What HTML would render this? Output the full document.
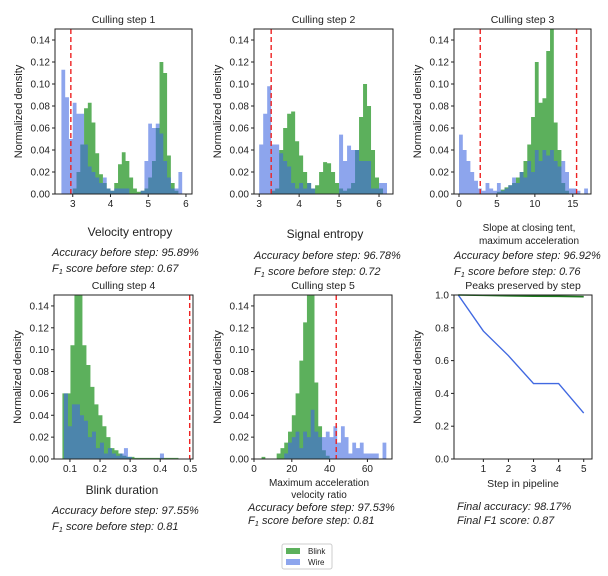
<!DOCTYPE html>
<html><head><meta charset="utf-8"><style>
body{margin:0;background:#fff}
svg{display:block;font-family:"Liberation Sans","DejaVu Sans",sans-serif}
.t{font-size:10px;fill:#222}
</style></head><body>
<svg id="fig" width="608" height="576" viewBox="0 0 608 576"></svg>
<script>
// ---- data ----
const p1Blue=[0.113,0.088,0.05,0.083,0.073,0.073,0.045,0.025,0.02,0.015,0.01,0.015,0.005,0.003,0.005,0.005,0.005,0.005,0,0,0,0.003,0.03,0.064,0.06,0.064,0.055,0.03,0.015,0.005,0.005,0.02];
const p1BlueStart=2.7;
const p1Green=[0.005,0.02,0.045,0.078,0.083,0.065,0.037,0.018,0.01,0.005,0.003,0.01,0.027,0.038,0.03,0.015,0.005,0.002,0.003,0.005,0.015,0.03,0.06,0.12,0.11,0.035,0.01,0.003];
const p1GreenStart=3.0;
const p1Cut=[2.95];
const p2Blue=[0.045,0.073,0.098,0.045,0.045,0.037,0.03,0.025,0.01,0.005,0.01,0.005,0.01,0.005,0,0,0,0,0,0,0.054,0.03,0.044,0.04,0.04,0.03,0.03,0.03,0.005,0.005,0.01,0.01];
const p2BlueStart=3.0;
const p2Green=[0.003,0.005,0.04,0.06,0.073,0.075,0.048,0.035,0.02,0.01,0.005,0.008,0.02,0.029,0.028,0.02,0.01,0.005,0.003,0.005,0.01,0.04,0.07,0.1,0.08,0.04,0.015,0.005];
const p2GreenStart=3.3;
const p2Cut=[3.3];
const p3Blue=[0.054,0.04,0.03,0.02,0.012,0.005,0.003,0.01,0.005,0.003,0.01,0.003,0.005,0.008,0.015,0.01,0.02,0.015,0.03,0.02,0.04,0.03,0.04,0.035,0.04,0.03,0.025,0.03,0.02,0.005,0.005,0.003,0,0.005];
const p3BlueStart=0;
const p3Green=[0.002,0.004,0.006,0.008,0.01,0.015,0.02,0.03,0.045,0.07,0.12,0.083,0.087,0.13,0.15,0.065,0.04,0.01,0.003];
const p3GreenStart=5;
const p3Cut=[2.8,15.5];
const p4Blue=[0.06,0.03,0.05,0.05,0.04,0.035,0.02,0.025,0.01,0.015,0.005,0.01,0.005,0.003,0.005,0.01,0.002,0,0,0,0,0,0,0,0.005,0,0,0,0,0];
const p4BlueStart=0.08;
const p4Green=[0.06,0.06,0.104,0.15,0.15,0.104,0.086,0.066,0.05,0.04,0.03,0.02,0.01,0.008,0.005,0.003,0.002,0.002,0.001,0.001,0.001,0.001,0.001,0.001,0.001,0.001,0.001,0.001,0.001];
const p4GreenStart=0.075;
const p4Cut=[0.498];
const p5Blue=[0.005,0.015,0.02,0.025,0.01,0.025,0.02,0.045,0.025,0.02,0.02,0.025,0.02,0.03,0.015,0.03,0.02,0.005,0.015,0.01,0.015,0.005,0.005,0.005,0.005,0,0.015];
const p5BlueStart=16;
const p5Green=[0.002,0,0,0,0.005,0.01,0.015,0.025,0.04,0.06,0.09,0.125,0.15,0.15,0.07,0.03,0.008,0.003];
const p5GreenStart=4;
const p5Cut=[43.5];
const stepCats=[0,1,2,3,4,5];
const wirePreserved=[1.0,0.78,0.63,0.46,0.46,0.28];
const blinkPreserved=[1.0,0.998,0.995,0.993,0.992,0.99];
const histTicksY=["0.00","0.02","0.04","0.06","0.08","0.10","0.12","0.14"];
const lineTicksY=["0.0","0.2","0.4","0.6","0.8","1.0"];

const NS="http://www.w3.org/2000/svg";
const svg=document.getElementById('fig');
function mk(tag,attrs,parent,text){const e=document.createElementNS(NS,tag);for(const k in attrs)e.setAttribute(k,attrs[k]);if(text!==undefined)e.textContent=text;(parent||svg).appendChild(e);return e;}
function lin(d0,d1,r0,r1){return v=>r0+(v-d0)/(d1-d0)*(r1-r0);}

function axesFrame(g,L,T,R,B,xTicks,xs,yTicks,ys,ylabel){
  const fr=mk('rect',{x:L,y:T,width:R-L,height:B-T,fill:'none',stroke:'#222','stroke-width':1},g);
  
  
  xTicks.forEach(v=>{const x=xs(v);
    const tl=mk('line',{x1:x,x2:x,y1:B,y2:B+3,stroke:'#222'},g);
    
    
    const tx=mk('text',{x:x,y:B+13,'text-anchor':'middle',class:'t'},g,String(v));
    
    });
  yTicks.forEach(s=>{const y=ys(parseFloat(s));
    const tl=mk('line',{x1:L-3,x2:L,y1:y,y2:y,stroke:'#222'},g);
    
    
    const tx=mk('text',{x:L-5,y:y+3.5,'text-anchor':'end',class:'t'},g,s);
    
    });
  const yl=mk('text',{x:0,y:0,transform:`translate(${L-33},${(T+B)/2}) rotate(-90)`,'text-anchor':'middle','font-size':'11px',fill:'#222'},g,ylabel);
  
  
}
function hist(g,vals,start,w,xs,ys,color,op,name){
  const base=ys(0);
  let d=`M${xs(start)},${base}`;
  vals.forEach((v,i)=>{const y=ys(Math.min(v,0.15));
    d+=` L${xs(start+i*w)},${y} L${xs(start+(i+1)*w)},${y}`;});
  d+=` L${xs(start+vals.length*w)},${base} Z`;
  const p=mk('path',{d:d,fill:color,'fill-opacity':op},g);
  
  
}
function panel(o){
  const g=mk('g',{});
  
  
  const xs=lin(o.xmin,o.xmax,o.L,o.R), ys=lin(0,0.15,o.B,o.T);
  const clip=mk('clipPath',{id:'c'+o.name},g);mk('rect',{x:o.L,y:o.T,width:o.R-o.L,height:o.B-o.T},clip);
  const gg=mk('g',{'clip-path':`url(#c${o.name})`},g);
  hist(gg,o.green,o.gs,o.gw,xs,ys,'#2e9a2e',0.78,'blink-histogram');
  hist(gg,o.blue,o.bs,o.bw,xs,ys,'#4169e1',0.6,'wire-histogram');
  o.cut.forEach(c=>{const l=mk('line',{x1:xs(c),x2:xs(c),y1:o.T,y2:o.B,stroke:'#ee2222','stroke-width':1.4,'stroke-dasharray':'5,3'},gg);
    
    });
  axesFrame(g,o.L,o.T,o.R,o.B,o.xticks,xs,histTicksY,ys,'Normalized density');
  const t=mk('text',{x:(o.L+o.R)/2,y:o.T-6,'text-anchor':'middle','font-size':'10.5px',fill:'#222'},g,o.title);
  
  
}
panel({name:'culling-step-1',L:55,R:192,T:29,B:194,xmin:2.53,xmax:6.16,xticks:[3,4,5,6],green:p1Green,gs:p1GreenStart,gw:0.1,blue:p1Blue,bs:p1BlueStart,bw:0.1,cut:p1Cut,title:'Culling step 1'});
panel({name:'culling-step-2',L:254,R:393,T:29,B:194,xmin:2.87,xmax:6.35,xticks:[3,4,5,6],green:p2Green,gs:p2GreenStart,gw:0.1,blue:p2Blue,bs:p2BlueStart,bw:0.1,cut:p2Cut,title:'Culling step 2'});
panel({name:'culling-step-3',L:454,R:591,T:29,B:194,xmin:-0.66,xmax:17.4,xticks:[0,5,10,15],green:p3Green,gs:p3GreenStart,gw:0.5,blue:p3Blue,bs:p3BlueStart,bw:0.5,cut:p3Cut,title:'Culling step 3'});
panel({name:'culling-step-4',L:54,R:193,T:295,B:459,xmin:0.047,xmax:0.509,xticks:[0.1,0.2,0.3,0.4,0.5],green:p4Green,gs:p4GreenStart,gw:0.0133,blue:p4Blue,bs:p4BlueStart,bw:0.0133,cut:p4Cut,title:'Culling step 4'});
panel({name:'culling-step-5',L:254,R:392,T:295,B:459,xmin:0,xmax:73,xticks:[0,20,40,60],green:p5Green,gs:p5GreenStart,gw:2,blue:p5Blue,bs:p5BlueStart,bw:2,cut:p5Cut,title:'Culling step 5'});

// line panel
(function(){
  const L=454,R=592,T=295,B=459;
  const g=mk('g',{});
  
  
  const xs=lin(-0.17,5.33,L,R), ys=lin(0,1,B,T);
  const pts=a=>a.map((v,i)=>`${xs(stepCats[i])},${ys(v)}`).join(' ');
  const wl=mk('polyline',{points:pts(wirePreserved),fill:'none',stroke:'#4169e1','stroke-width':1.4},g);
  
  
  const bl=mk('polyline',{points:pts(blinkPreserved),fill:'none',stroke:'#1e7a1e','stroke-width':1.6},g);
  
  
  axesFrame(g,L,T,R,B,[1,2,3,4,5],xs,lineTicksY,ys,'Normalized density');
  const t=mk('text',{x:523,y:T-6,'text-anchor':'middle','font-size':'10.5px',fill:'#222'},g,'Peaks preserved by step');
  
  
})();
</script>
<svg width="608" height="576" style="position:absolute;left:0;top:0">
<g font-family="Liberation Sans, DejaVu Sans, sans-serif" fill="#222">
<text x="130" y="236" text-anchor="middle" font-size="12">Velocity entropy</text>
<text x="52" y="256" font-size="11" font-style="italic">Accuracy before step: 95.89%</text>
<text x="52" y="272" font-size="11" font-style="italic">F<tspan font-size="7.5" dy="2">1</tspan><tspan dy="-2"> score before step: 0.67</tspan></text>
<text x="325" y="238" text-anchor="middle" font-size="12">Signal entropy</text>
<text x="254" y="259" font-size="11" font-style="italic">Accuracy before step: 96.78%</text>
<text x="254" y="275" font-size="11" font-style="italic">F<tspan font-size="7.5" dy="2">1</tspan><tspan dy="-2"> score before step: 0.72</tspan></text>
<text x="529" y="231" text-anchor="middle" font-size="10">Slope at closing tent,</text>
<text x="529" y="244" text-anchor="middle" font-size="10">maximum acceleration</text>
<text x="454" y="259" font-size="11" font-style="italic">Accuracy before step: 96.92%</text>
<text x="454" y="275" font-size="11" font-style="italic">F<tspan font-size="7.5" dy="2">1</tspan><tspan dy="-2"> score before step: 0.76</tspan></text>
<text x="122" y="494" text-anchor="middle" font-size="12">Blink duration</text>
<text x="52" y="514" font-size="11" font-style="italic">Accuracy before step: 97.55%</text>
<text x="52" y="530" font-size="11" font-style="italic">F<tspan font-size="7.5" dy="2">1</tspan><tspan dy="-2"> score before step: 0.81</tspan></text>
<text x="319" y="486" text-anchor="middle" font-size="10">Maximum acceleration</text>
<text x="319" y="498" text-anchor="middle" font-size="10">velocity ratio</text>
<text x="248" y="511" font-size="11" font-style="italic">Accuracy before step: 97.53%</text>
<text x="248" y="524" font-size="11" font-style="italic">F<tspan font-size="7.5" dy="2">1</tspan><tspan dy="-2"> score before step: 0.81</tspan></text>
<text x="523" y="487" text-anchor="middle" font-size="10.5">Step in pipeline</text>
<text x="457" y="510" font-size="11" font-style="italic">Final accuracy: 98.17%</text>
<text x="457" y="524" font-size="11" font-style="italic">Final F1 score: 0.87</text>
</g>
<g>
<rect x="282" y="544" width="50" height="25" rx="2" fill="#fff" stroke="#ccc"/>
<rect x="286" y="548" width="14" height="6" fill="#2e9a2e" fill-opacity="0.78"/>
<text x="308" y="554" font-size="8" font-family="Liberation Sans, sans-serif" fill="#222">Blink</text>
<rect x="286" y="559" width="14" height="6" fill="#4169e1" fill-opacity="0.6"/>
<text x="308" y="565" font-size="8" font-family="Liberation Sans, sans-serif" fill="#222">Wire</text>
</g>
</svg>
</body></html>
